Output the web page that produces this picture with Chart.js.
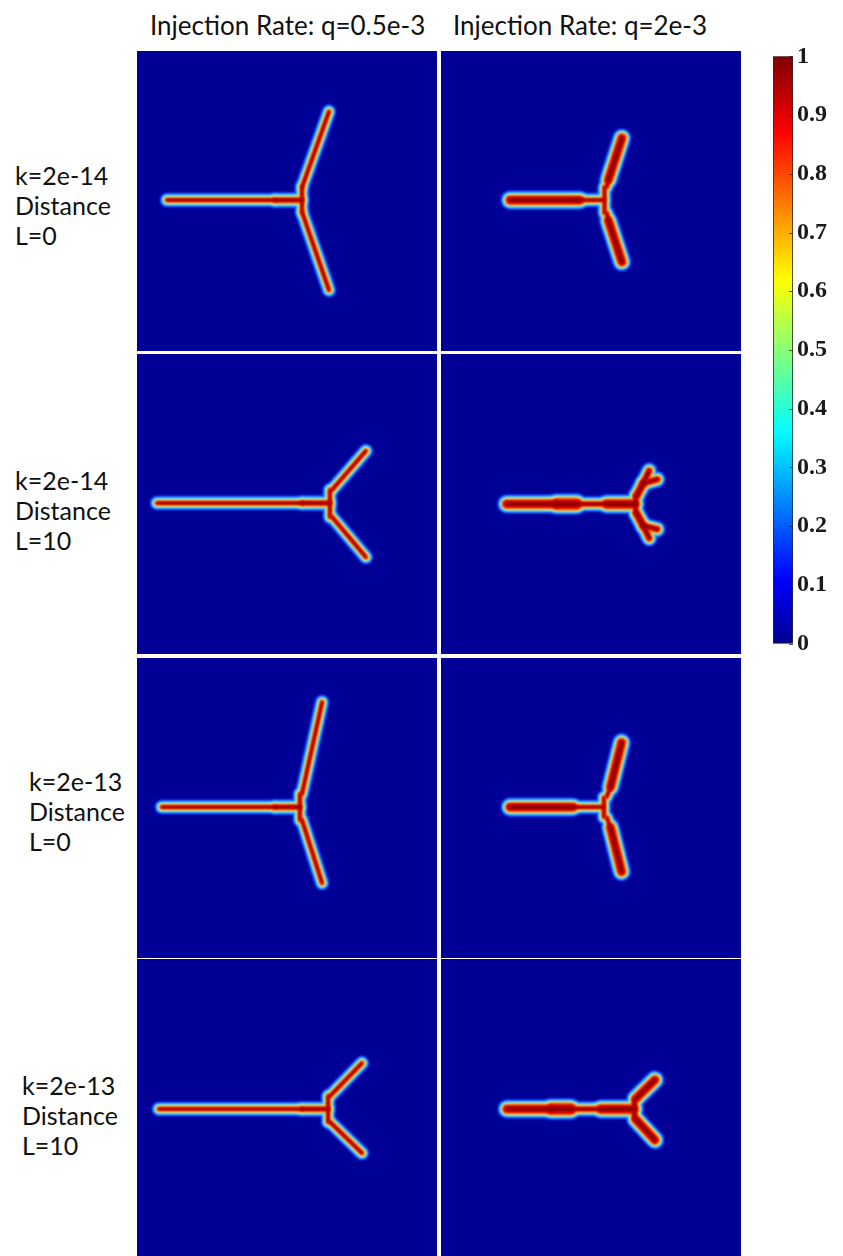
<!DOCTYPE html>
<html>
<head>
<meta charset="utf-8">
<script src="https://cdn.jsdelivr.net/npm/chart.js@4/dist/chart.umd.min.js"></script>
<style>
    body { margin: 0; background: #fff; width: 843px; height: 1256px; position: relative; overflow: hidden; }
    .txt { position: absolute; font-family: Lato, "Open Sans", sans-serif; color: #111; white-space: nowrap; }
    .title { font-size: 26px; line-height: 30px; }
    .rowlab { font-size: 25px; line-height: 30px; }
    canvas { position: absolute; }
</style>
</head>
<body>
<script>
// ===== DATA =====
var columnTitles = ['Injection Rate: q=0.5e-3', 'Injection Rate: q=2e-3'];
var rowLabels = [
    ['k=2e-14', 'Distance', 'L=0'],
    ['k=2e-14', 'Distance', 'L=10'],
    ['k=2e-13', 'Distance', 'L=0'],
    ['k=2e-13', 'Distance', 'L=10']
];
var colorbarTicks = ['0', '0.1', '0.2', '0.3', '0.4', '0.5', '0.6', '0.7', '0.8', '0.9', '1'];

// fracture paths in domain units (0-100, y downward), a = relative aperture
var frac_k14_L0_q05 = [
    { a: 1,   pts: [[10, 49.7], [46, 49.7]] },
    { a: 1.3, pts: [[46, 49.7], [55, 49.7]] },
    { a: 1,   pts: [[55, 45.3], [55, 53.7]] },
    { a: 1,   pts: [[55.1, 45.2], [64, 20.2]] },
    { a: 1,   pts: [[55.1, 53.9], [64, 79.7]] }
];
var frac_k14_L0_q2 = [
    { a: 2.3, pts: [[23, 49.7], [46.3, 49.7]] },
    { a: 1,   pts: [[46.3, 49.7], [54.3, 49.7]] },
    { a: 1,   pts: [[54.5, 45.3], [54.5, 54]] },
    { a: 1,   pts: [[55.3, 45.3], [55.8, 43]] },
    { a: 2.3, pts: [[55.8, 43], [60.3, 29]] },
    { a: 1,   pts: [[55.3, 54], [55.8, 56.5]] },
    { a: 2.3, pts: [[55.8, 56.5], [60.3, 70.3]] }
];
var frac_k14_L10_q05 = [
    { a: 1,   pts: [[6.7, 49.7], [55, 49.7]] },
    { a: 1.3, pts: [[55, 49.7], [64.3, 49.7]] },
    { a: 1,   pts: [[64.3, 45.3], [64.3, 54.3]] },
    { a: 1,   pts: [[65, 45.3], [76.3, 32.3]] },
    { a: 1,   pts: [[65, 54.3], [76.3, 67.7]] }
];
var frac_k14_L10_q2 = [
    { a: 2.3, pts: [[21.9, 50], [38.6, 50]] },
    { a: 3,   pts: [[38.6, 50], [45.2, 50]] },
    { a: 1.3, pts: [[45.2, 50], [55.2, 50]] },
    { a: 2.5, pts: [[55.2, 50], [64.7, 50]] },
    { a: 1.3, pts: [[64.9, 47.3], [64.9, 53]] },
    { a: 2,   pts: [[65.2, 47.3], [67.4, 43.1]] },
    { a: 1.6, pts: [[67.4, 43.1], [69.4, 38.9]] },
    { a: 1.6, pts: [[67.4, 43.1], [72.1, 41.8]] },
    { a: 2,   pts: [[65.2, 53.1], [67.4, 57.2]] },
    { a: 1.6, pts: [[67.4, 57.2], [69.4, 61.4]] },
    { a: 1.6, pts: [[67.4, 57.2], [72.1, 58.4]] }
];
var frac_k13_L0_q05 = [
    { a: 1,   pts: [[8.3, 49.7], [46, 49.7]] },
    { a: 1.3, pts: [[46, 49.7], [54.3, 49.7]] },
    { a: 1,   pts: [[54.3, 45.3], [54.3, 54]] },
    { a: 1,   pts: [[55, 45.3], [61.7, 14.7]] },
    { a: 1,   pts: [[55, 54], [61.7, 75]] }
];
var frac_k13_L0_q2 = [
    { a: 2.3, pts: [[23, 49.7], [44, 49.7]] },
    { a: 1,   pts: [[44, 49.7], [54, 49.7]] },
    { a: 1,   pts: [[54.3, 46.5], [54.3, 53]] },
    { a: 1,   pts: [[55.3, 46.2], [56.5, 43]] },
    { a: 2.3, pts: [[56.5, 43], [60.2, 28.2]] },
    { a: 1,   pts: [[55.3, 53.2], [56.5, 56.5]] },
    { a: 2.3, pts: [[56.5, 56.5], [60.2, 71.2]] }
];
var frac_k13_L10_q05 = [
    { a: 1,   pts: [[7.3, 50], [55, 50]] },
    { a: 1.3, pts: [[55, 50], [63.7, 50]] },
    { a: 1,   pts: [[63.7, 45.7], [63.7, 54.3]] },
    { a: 1,   pts: [[64.3, 45.7], [75, 34.7]] },
    { a: 1,   pts: [[64.3, 54.3], [75, 64.7]] }
];
var frac_k13_L10_q2 = [
    { a: 2.3, pts: [[22, 50], [36.7, 50]] },
    { a: 3,   pts: [[36.7, 50], [43.3, 50]] },
    { a: 1.3, pts: [[43.3, 50], [53.3, 50]] },
    { a: 2.5, pts: [[53.3, 50], [64.3, 50]] },
    { a: 1.5, pts: [[64.5, 47], [64.5, 53]] },
    { a: 2.3, pts: [[65, 46.5], [71.3, 40.3]] },
    { a: 2.3, pts: [[65, 53.5], [71.3, 60.3]] }
];

var panelData = [
    [frac_k14_L0_q05, frac_k14_L0_q2],
    [frac_k14_L10_q05, frac_k14_L10_q2],
    [frac_k13_L0_q05, frac_k13_L0_q2],
    [frac_k13_L10_q05, frac_k13_L10_q2]
];

// ===== LAYOUT =====
var panelLeft = [137, 441];
var panelTop = [51, 354, 658, 959];
var panelSize = 300;
var BG = '#000096';

// halo layers, outermost first: extra width on top of the core stroke
var halo = [
    { extra: 11,  color: '#1b3cff' },
    { extra: 8.5, color: '#1e8cff' },
    { extra: 6.5, color: '#40d8ff' },
    { extra: 4.3, color: '#d8f4a0' },
    { extra: 2.4, color: '#ff9a10' },
    { extra: 0,   color: '#e00000' },
    { extra: -1,  color: '#8a0000' }
];

function jet(g) {
    g.addColorStop(0, '#00008f');
    g.addColorStop(0.11, '#0000ff');
    g.addColorStop(0.36, '#00ffff');
    g.addColorStop(0.62, '#ffff00');
    g.addColorStop(0.87, '#ff0000');
    g.addColorStop(1, '#800000');
}

function addText(cls, left, top, html) {
    var d = document.createElement('div');
    d.className = 'txt ' + cls;
    d.style.left = left + 'px';
    d.style.top = top + 'px';
    d.innerHTML = html;
    document.body.appendChild(d);
    return d;
}

function addCanvas(left, top, w, h) {
    var c = document.createElement('canvas');
    c.width = w; c.height = h;
    c.style.left = left + 'px';
    c.style.top = top + 'px';
    c.style.width = w + 'px';
    c.style.height = h + 'px';
    document.body.appendChild(c);
    return c;
}

// background fill + soft edges for the phase field
var fieldPlugin = {
    id: 'field',
    beforeDraw: function(chart) {
        var ctx = chart.ctx;
        ctx.save();
        ctx.fillStyle = BG;
        ctx.fillRect(0, 0, chart.width, chart.height);
        ctx.restore();
    },
    beforeDatasetsDraw: function(chart) { chart.ctx.filter = 'blur(1.2px)'; },
    afterDatasetsDraw: function(chart) { chart.ctx.filter = 'none'; }
};

function buildDatasets(frac) {
    var sets = [];
    halo.forEach(function(layer, li) {
        frac.forEach(function(seg) {
            var core = 3.5 * seg.a;
            var w = layer.extra < 0 ? core * 0.45 : core + layer.extra;
            sets.push({
                data: seg.pts.map(function(p) { return { x: p[0], y: p[1] }; }),
                showLine: true,
                borderColor: layer.color,
                borderWidth: w,
                borderCapStyle: 'round',
                borderJoinStyle: 'round',
                pointRadius: 0,
                tension: 0,
                order: halo.length - li
            });
        });
    });
    return sets;
}

function drawPanel(r, c) {
    var cv = addCanvas(panelLeft[c], panelTop[r], panelSize, panelSize);
    new Chart(cv.getContext('2d'), {
        type: 'scatter',
        data: { datasets: buildDatasets(panelData[r][c]) },
        options: {
            responsive: false,
            animation: false,
            layout: { padding: 0 },
            scales: {
                x: { type: 'linear', min: 0, max: 100, display: false },
                y: { type: 'linear', min: 0, max: 100, reverse: true, display: false }
            },
            plugins: { legend: { display: false }, tooltip: { enabled: false } }
        },
        plugins: [fieldPlugin]
    });
}

// ===== COLORBAR =====
function drawColorbar() {
    var cv = addCanvas(766, 38, 77, 624);
    new Chart(cv.getContext('2d'), {
        type: 'bar',
        data: {
            labels: ['d'],
            datasets: [{
                data: [1],
                barPercentage: 1,
                categoryPercentage: 1,
                borderWidth: 0,
                backgroundColor: function(ctx) {
                    var a = ctx.chart.chartArea;
                    if (!a) return BG;
                    var g = ctx.chart.ctx.createLinearGradient(0, a.bottom, 0, a.top);
                    jet(g);
                    return g;
                }
            }]
        },
        options: {
            responsive: false,
            animation: false,
            layout: { padding: { left: 7, top: 13, bottom: 12, right: 0 } },
            scales: {
                x: { display: false },
                y: {
                    position: 'right',
                    min: 0, max: 1,
                    afterFit: function(s) { s.width = 50; },
                    afterBuildTicks: function(s) {
                        s.ticks = colorbarTicks.map(function(t) { return { value: parseFloat(t) }; });
                    },
                    border: { display: false },
                    grid: { drawOnChartArea: false, tickLength: 0 },
                    ticks: {
                        padding: 4,
                        color: '#1a1a1a',
                        font: { family: '"Liberation Serif", "DejaVu Serif", serif', weight: 'bold', size: 24 },
                        callback: function(v, i) { return colorbarTicks[i]; }
                    }
                }
            },
            plugins: { legend: { display: false }, tooltip: { enabled: false } }
        },
        plugins: [{
            id: 'cbTicks',
            afterDraw: function(chart) {
                var ctx = chart.ctx, a = chart.chartArea, ys = chart.scales.y;
                ctx.save();
                ctx.strokeStyle = 'rgba(40,40,40,0.8)';
                ctx.lineWidth = 1;
                ctx.strokeRect(a.left + 0.5, a.top + 0.5, a.width - 1, a.height - 1);
                ys.ticks.forEach(function(t) {
                    var y = Math.round(ys.getPixelForValue(t.value)) + 0.5;
                    ctx.beginPath();
                    ctx.moveTo(a.right - 4, y);
                    ctx.lineTo(a.right, y);
                    ctx.stroke();
                });
                ctx.restore();
            }
        }]
    });
}

// ===== INIT =====
document.addEventListener('DOMContentLoaded', function() {
    addText('title', 150, 10, columnTitles[0]);
    addText('title', 453, 10, columnTitles[1]);

    var labelPos = [[15, 160], [15, 465], [29, 766], [22, 1070]];
    rowLabels.forEach(function(lines, r) {
        addText('rowlab', labelPos[r][0], labelPos[r][1], lines.join('<br>'));
    });

    for (var r = 0; r < 4; r++) {
        for (var c = 0; c < 2; c++) drawPanel(r, c);
    }
    drawColorbar();
});
</script>
</body>
</html>
